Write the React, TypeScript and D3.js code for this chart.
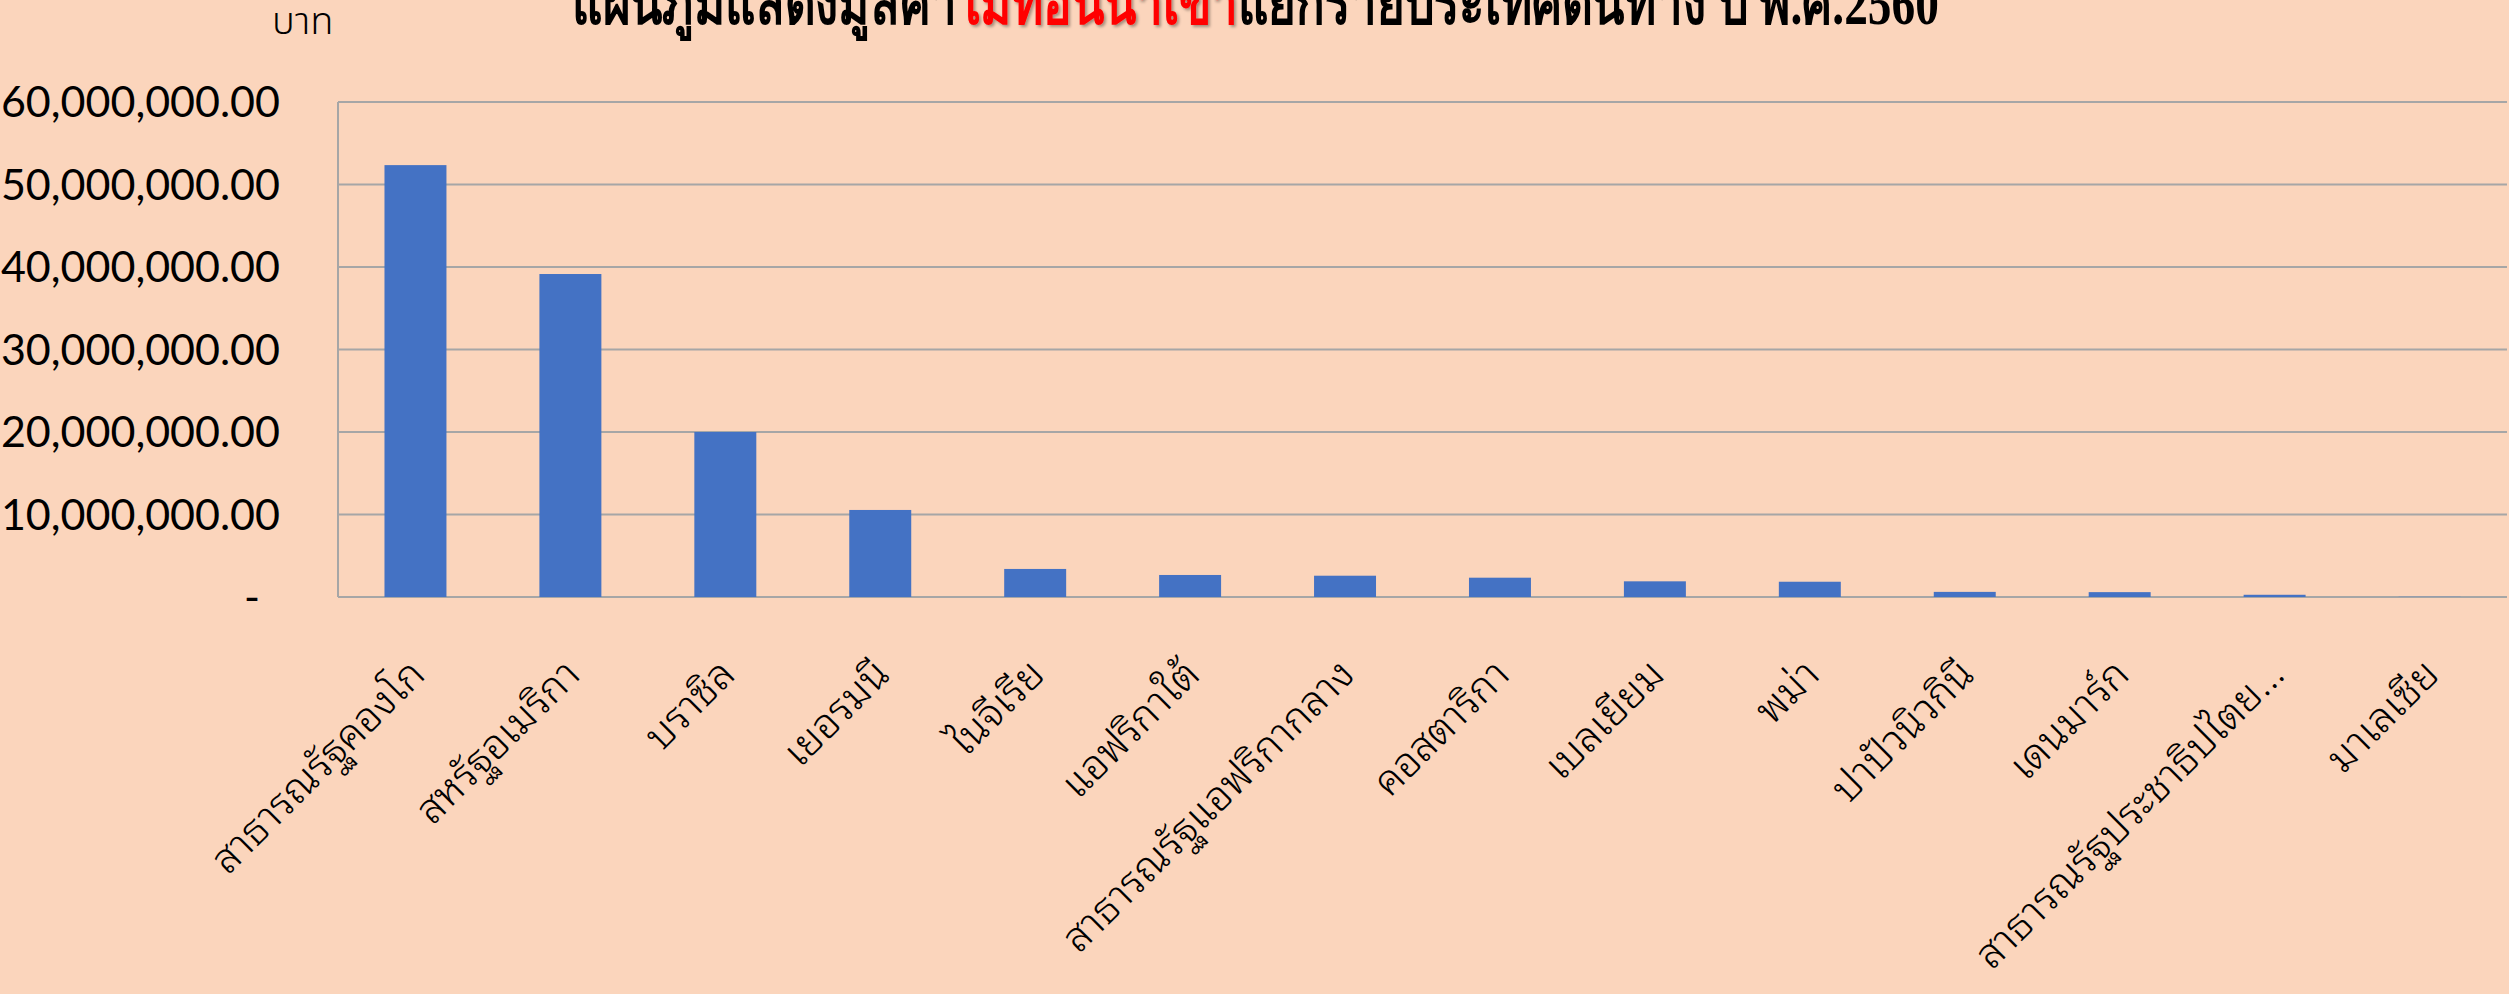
import React from "react";
import * as d3 from "d3";

const categories = [
  "สาธารณรัฐคองโก",
  "สหรัฐอเมริกา",
  "บราซิล",
  "เยอรมนี",
  "ไนจีเรีย",
  "แอฟริกาใต้",
  "สาธารณรัฐแอฟริกากลาง",
  "คอสตาริกา",
  "เบลเยียม",
  "พม่า",
  "ปาปัวนิวกินี",
  "เดนมาร์ก",
  "สาธารณรัฐประชาธิปไตย...",
  "มาเลเซีย",
];
const values = [
  52350000, 39150000, 20000000, 10550000, 3400000, 2670000, 2580000, 2340000,
  1900000, 1850000, 620000, 590000, 270000, 20000,
];
const yTicks = [0, 10000000, 20000000, 30000000, 40000000, 50000000, 60000000];
const titleParts = [
  { text: "แผนภูมิแสดงมูลค่า", red: false },
  { text: "ไม้ท่อนนำเข้า", red: true },
  { text: "แยกรายประเทศต้นทาง ปี พ.ศ.2560", red: false },
];
const unitLabel = "บาท";

const W = 2509;
const H = 994;
const M = { left: 338, right: 2, top: 102, bottom: 397 };

export default function App() {
  const x = d3
    .scaleBand<string>()
    .domain(categories)
    .range([M.left, W - M.right])
    .paddingInner(0.6)
    .paddingOuter(0.3);
  const y = d3.scaleLinear().domain([0, 60000000]).range([H - M.bottom, M.top]);
  const fmt = (v: number) => (v === 0 ? "-" : d3.format(",.2f")(v));
  const grid = "#A6A6A6";

  return (
    <svg
      width={W}
      height={H}
      style={{ position: "absolute", left: 0, top: 0, display: "block" }}
    >
      <rect x={0} y={0} width={W} height={H} fill="#FBD5BC" />
      <defs>
        <filter id="sh" x="-5%" y="-20%" width="110%" height="150%">
          <feDropShadow dx="2" dy="2" stdDeviation="1.5" floodColor="#000" floodOpacity="0.35" />
        </filter>
      </defs>
      {yTicks.map((t) => (
        <line
          key={t}
          x1={M.left}
          x2={W - M.right}
          y1={y(t)}
          y2={y(t)}
          stroke={grid}
          strokeWidth={2}
        />
      ))}
      <line
        x1={M.left}
        x2={M.left}
        y1={y(60000000)}
        y2={y(0)}
        stroke={grid}
        strokeWidth={2}
      />
      {categories.map((c, i) => (
        <rect
          key={c}
          x={x(c)}
          y={y(values[i])}
          width={x.bandwidth()}
          height={y(0) - y(values[i])}
          fill="#4472C4"
        />
      ))}
      {yTicks.map((t) => (
        <text
          key={"l" + t}
          x={t === 0 ? 260 : 280}
          y={y(t)}
          dy="0.36em"
          textAnchor="end"
          fontFamily="Lato, 'Open Sans', sans-serif"
          fontSize={43}
          fill="#000"
        >
          {fmt(t)}
        </text>
      ))}
      {categories.map((c) => {
        const cx = (x(c) as number) + x.bandwidth() / 2;
        return (
          <text
            key={"x" + c}
            transform={`translate(${cx + 4},${y(0) + 72}) rotate(-45)`}
            textAnchor="end"
            dominantBaseline="middle"
            fontFamily="'Noto Sans Thai Looped', 'Noto Sans Thai', Tahoma, sans-serif"
            fontWeight={300}
            fontSize={41}
            fill="#000"
          >
            {c}
          </text>
        );
      })}
      <text
        x={272}
        y={34}
        fontFamily="'Noto Sans Thai', sans-serif"
        fontWeight={300}
        fontSize={38}
        fill="#000"
      >
        {unitLabel}
      </text>
      <text
        x={572}
        y={24}
        textLength={1367}
        lengthAdjust="spacingAndGlyphs"
        fontFamily="'Liberation Serif', serif"
        fontWeight="bold"
        fontSize={62}
        fill="#000"
      >
        {titleParts.map((p, i) => (
          <tspan key={i} fill={p.red ? "#FF0000" : "#000"} filter={p.red ? "url(#sh)" : undefined}>
            {p.text}
          </tspan>
        ))}
      </text>
    </svg>
  );
}
